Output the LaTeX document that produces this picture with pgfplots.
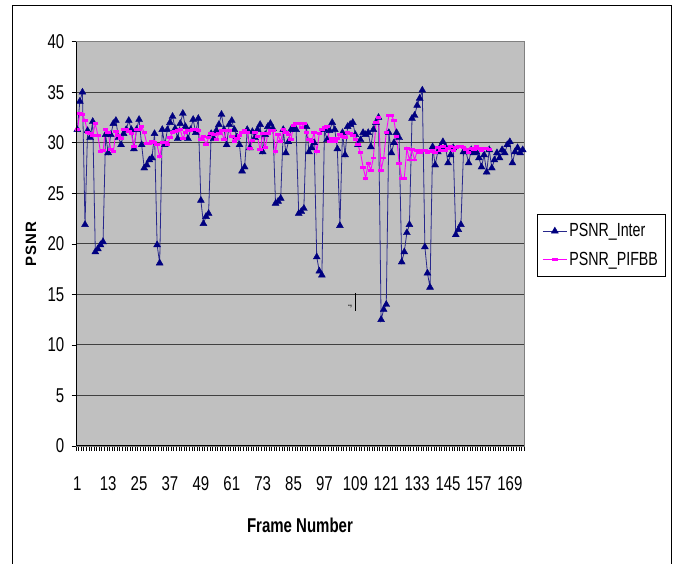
\documentclass[border=0pt]{standalone}
\usepackage{fontspec}
\setmainfont{Liberation Sans}[FakeStretch=0.75]
\newfontfamily\psnrfont{Liberation Sans}[LetterSpace=8]
\usepackage{pgfplots}
\pgfplotsset{compat=1.18}
\definecolor{plotbg}{RGB}{192,192,192}
\definecolor{gridc}{RGB}{64,64,64}
\definecolor{navyc}{RGB}{0,0,128}
\definecolor{navyline}{RGB}{40,40,140}
\definecolor{pinkc}{RGB}{255,0,255}
\definecolor{boxgray}{RGB}{128,128,128}
\newcommand{\tickfont}{\fontsize{20bp}{21bp}\selectfont}
\newcommand{\legfont}{\fontsize{19bp}{20bp}\selectfont}
\newcommand{\labfont}{\fontsize{20bp}{21bp}\selectfont\bfseries}
\begin{document}
\begin{tikzpicture}
\useasboundingbox (0,0) rectangle (673bp,564bp);
\draw[black, line width=1bp] (12bp,-10bp) -- (12bp,558bp) -- (671bp,558bp) -- (671bp,-10bp);
\begin{axis}[
  at={(76bp,118bp)}, anchor=south west,
  scale only axis, width=448bp, height=404.3bp,
  xmin=0.5, xmax=174.5, ymin=0, ymax=40,
  xtick={1,13,...,169},
  minor xtick={0.5,1.5,...,174.5},
  ytick={0,5,...,40},
  tick pos=left, tick align=outside,
  major tick length=4.5bp, minor tick length=4.5bp,
  major x tick style={draw=none},
  tick style={black, line width=0.7bp},
  /pgf/number format/assume math mode=true,
  xticklabel style={font=\tickfont, anchor=north, inner sep=0pt, yshift=-26bp},
  yticklabel style={font=\tickfont, anchor=east, inner sep=0pt, xshift=-7bp},
  ymajorgrids, grid style={gridc, line width=0.9bp},
  axis background/.style={fill=plotbg},
  axis line style={draw=boxgray, line width=0.8bp},
  xlabel={Frame Number},
  ylabel={\psnrfont\fontsize{15bp}{16bp}\selectfont\bfseries PSNR},
  every axis x label/.style={at={(rel axis cs:0.5,0)}, yshift=-79bp, anchor=center, font=\labfont},
  every axis y label/.style={at={(rel axis cs:0,0.5)}, xshift=-45bp, rotate=90, anchor=center},
  legend style={at={(1,0.5)}, anchor=west, xshift=13bp, yshift=-1.6bp,
    draw=black, line width=0.8bp, fill=white, font=\legfont,
    inner xsep=5bp, inner ysep=7bp, row sep=10bp, cells={anchor=west}},
  legend image code/.code={\draw[mark repeat=2,mark phase=2,#1] plot coordinates {(0bp,0bp) (12bp,0bp) (24bp,0bp)};},
  after end axis/.code={\draw[black,line width=1bp] (rel axis cs:0,1) -- (rel axis cs:0,0) -- (rel axis cs:1,0);},
]
\addplot[navyline, line width=0.8bp, mark=triangle*, mark size=4bp,
  mark options={draw=navyc, fill=navyc, line width=0.4bp, solid}] table {
x y
1 31.3
2 34.1
3 35.0
4 21.9
5 31.2
6 30.5
7 32.1
8 19.2
9 19.5
10 19.9
11 20.2
12 30.8
13 29.0
14 30.8
15 31.9
16 32.2
17 30.5
18 29.8
19 30.9
20 31.3
21 32.2
22 31.3
23 29.4
24 31.3
25 32.3
26 29.8
27 27.5
28 27.8
29 28.3
30 28.5
31 30.9
32 19.9
33 18.1
34 31.3
35 29.8
36 31.3
37 32.0
38 32.6
39 31.4
40 30.4
41 31.9
42 32.9
43 31.6
44 30.4
45 31.3
46 32.3
47 31.0
48 32.4
49 24.3
50 22.0
51 22.7
52 23.0
53 30.9
54 30.4
55 31.2
56 31.8
57 32.8
58 31.3
59 29.8
60 31.8
61 32.2
62 31.3
63 30.6
64 29.8
65 27.2
66 27.6
67 31.3
68 29.5
69 31.1
70 30.5
71 31.3
72 31.8
73 29.1
74 30.8
75 31.6
76 31.9
77 31.4
78 24.0
79 24.2
80 24.5
81 31.3
82 29.0
83 30.1
84 31.3
85 31.4
86 31.3
87 23.0
88 23.2
89 23.5
90 31.6
91 29.1
92 29.5
93 30.0
94 18.7
95 17.3
96 16.9
97 31.3
98 30.3
99 31.2
100 32.0
101 31.3
102 29.4
103 21.8
104 31.0
105 28.8
106 31.6
107 31.8
108 32.0
109 30.8
110 29.8
111 30.3
112 31.0
113 30.8
114 31.0
115 29.6
116 31.3
117 32.0
118 32.5
119 12.5
120 13.5
121 14.0
122 31.0
123 29.0
124 30.0
125 31.0
126 30.5
127 18.2
128 19.2
129 21.1
130 21.9
131 32.4
132 32.7
133 33.7
134 34.4
135 35.2
136 19.7
137 17.1
138 15.7
139 29.6
140 27.8
141 29.1
142 29.6
143 30.1
144 29.6
145 28.0
146 28.8
147 29.5
148 20.9
149 21.4
150 21.9
151 29.1
152 29.1
153 28.0
154 29.3
155 29.0
156 29.1
157 28.5
158 27.6
159 28.8
160 27.1
161 29.3
162 27.5
163 28.3
164 29.0
165 28.5
166 29.3
167 29.0
168 29.8
169 30.1
170 28.0
171 29.1
172 29.5
173 29.0
174 29.3
};
\addlegendentry{PSNR\_Inter}
\addplot[pinkc, line width=0.9bp, mark=square*, mark size=1.4bp,
  mark options={draw=pinkc, fill=pinkc, xscale=1.6, yscale=0.7, solid}] table {
x y
1 31.3
2 32.9
3 32.8
4 32.2
5 31.0
6 30.9
7 30.7
8 31.9
9 30.7
10 29.1
11 29.2
12 31.3
13 31.0
14 29.3
15 29.1
16 31.1
17 30.7
18 30.4
19 31.3
20 31.3
21 31.1
22 30.9
23 29.6
24 31.3
25 31.3
26 31.6
27 31.0
28 29.9
29 29.9
30 30.1
31 30.0
32 29.8
33 28.6
34 30.0
35 30.0
36 29.8
37 30.5
38 31.0
39 31.1
40 31.2
41 31.3
42 30.4
43 31.0
44 31.2
45 31.2
46 31.3
47 31.3
48 31.2
49 30.3
50 30.6
51 29.8
52 30.5
53 30.9
54 30.8
55 30.3
56 30.9
57 31.2
58 30.3
59 31.2
60 31.2
61 30.6
62 30.1
63 30.4
64 30.7
65 31.0
66 31.2
67 31.0
68 29.4
69 30.2
70 31.0
71 30.6
72 29.3
73 30.9
74 29.5
75 30.9
76 31.2
77 31.2
78 29.1
79 30.8
80 30.1
81 31.3
82 31.0
83 30.8
84 30.3
85 31.7
86 31.9
87 31.9
88 31.5
89 31.9
90 31.0
91 30.3
92 30.1
93 31.0
94 29.1
95 30.9
96 31.3
97 31.5
98 31.6
99 30.1
100 30.4
101 30.1
102 30.4
103 30.8
104 30.6
105 30.5
106 31.0
107 30.9
108 30.7
109 30.3
110 29.8
111 29.0
112 27.6
113 26.5
114 28.0
115 27.3
116 28.5
117 32.0
118 32.5
119 27.3
120 28.5
121 31.0
122 32.7
123 32.7
124 32.2
125 30.6
126 28.0
127 26.5
128 26.5
129 29.4
130 28.3
131 29.3
132 28.3
133 29.2
134 29.0
135 29.2
136 29.2
137 29.0
138 29.1
139 29.2
140 29.0
141 29.5
142 29.2
143 29.6
144 29.2
145 29.4
146 29.6
147 29.2
148 29.5
149 29.6
150 29.6
151 29.5
152 29.3
153 29.0
154 29.4
155 29.3
156 29.6
157 29.4
158 29.2
159 29.4
160 29.4
161 29.3
};
\addlegendentry{PSNR\_PIFBB}
\end{axis}
\node[font=\fontsize{9bp}{9bp}\selectfont\bfseries, inner sep=0pt] at (350bp,257bp) {.,};
\draw[black, line width=0.8bp] (355bp,253bp) -- (355bp,271bp);
\end{tikzpicture}
\end{document}
